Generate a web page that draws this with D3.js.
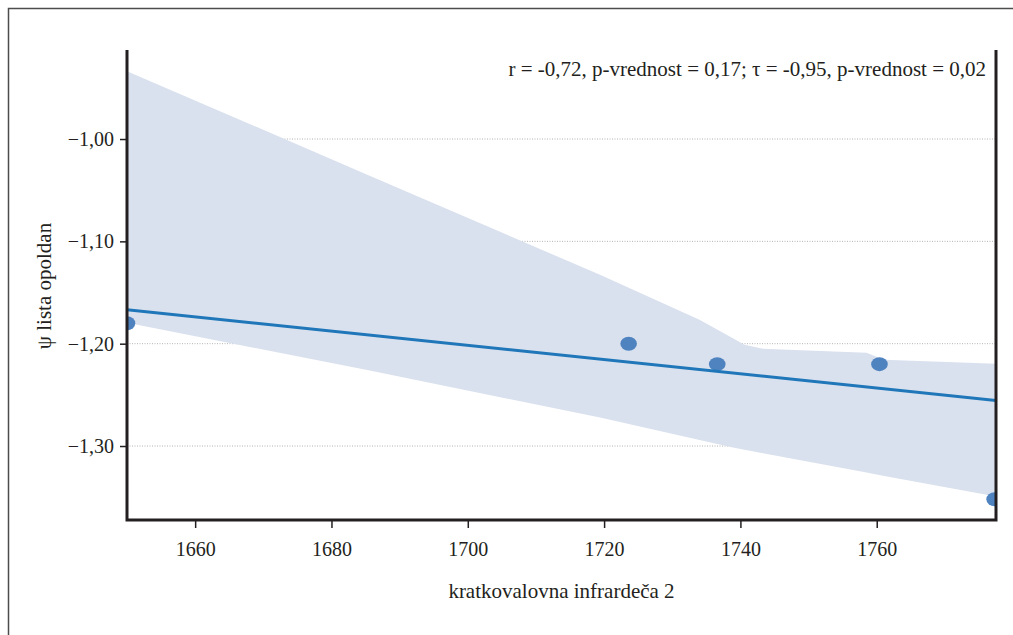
<!DOCTYPE html>
<html>
<head>
<meta charset="utf-8">
<script src="https://cdn.jsdelivr.net/npm/d3@7"></script>
<style>
body { margin: 0; background: #fff; }
text { font-family: "Liberation Serif", "DejaVu Serif", serif; fill: #231f20; }
</style>
</head>
<body>
<script>
// measured points
var xData = [1650, 1723.6, 1736.6, 1760.4, 1777.3];
var yData = [-1.18, -1.20, -1.22, -1.22, -1.352];

// regression line ends
var fitX = [1650, 1777.5];
var fitY = [-1.1668, -1.2556];

// confidence band
var bandX     = [1650, 1685.6, 1719.4, 1734.0, 1738.9, 1740.6, 1743.3, 1758.5, 1761.1, 1777.5];
var bandUpper = [-0.9337, -1.0358, -1.1327, -1.1766, -1.1947, -1.2010, -1.2049, -1.2088, -1.2156, -1.2195];
var bandLower = [-1.1795, -1.2263, -1.2722, -1.2941, -1.3015, -1.3036, -1.3070, -1.3259, -1.3292, -1.3493];

var xTicks = [1660, 1680, 1700, 1720, 1740, 1760];
var yTicks = [-1.00, -1.10, -1.20, -1.30];

var statText = "r = -0,72, p-vrednost = 0,17; \u03c4 = -0,95, p-vrednost = 0,02";
var xLabel = "kratkovalovna infrardeča 2";
var yLabel = "\u03c8 lista opoldan";

var W = 1013, H = 635;
var margin = {top: 50, right: 17, bottom: 115, left: 127};
var width = W - margin.left - margin.right;
var height = H - margin.top - margin.bottom;

var xScale = d3.scaleLinear().domain([1650, 1777.5]).range([0, width]);
var yScale = d3.scaleLinear().domain([-1.3723, -0.913]).range([height, 0]);

var loc = d3.formatLocale({decimal: ",", thousands: ".", grouping: [3], currency: ["", ""], minus: "\u2212"});
var yFmt = loc.format(".2f");

var svg = d3.select("body").append("svg")
.attr("width", W)
.attr("height", H);

// outer frame
svg.append("rect")
.attr("x", 8.5).attr("y", 8.5)
.attr("width", W).attr("height", H)
.attr("fill", "none")
.attr("stroke", "#4d4d4d")
.attr("stroke-width", 1.5);

var g = svg.append("g")
.attr("transform", "translate(" + margin.left + "," + margin.top + ")");

g.append("clipPath").attr("id", "clip")
.append("rect").attr("width", width).attr("height", height);

// grid
g.append("g").selectAll("line").data(yTicks).enter().append("line")
.attr("x1", 0).attr("x2", width)
.attr("y1", function(d) { return yScale(d); })
.attr("y2", function(d) { return yScale(d); })
.attr("stroke", "#b3b3b3")
.attr("stroke-width", 1)
.attr("stroke-dasharray", "1,1.5");

var plot = g.append("g").attr("clip-path", "url(#clip)");

var area = d3.area()
.x(function(d, i) { return xScale(bandX[i]); })
.y0(function(d, i) { return yScale(bandLower[i]); })
.y1(function(d, i) { return yScale(bandUpper[i]); });

plot.append("path")
.attr("d", area(bandX))
.attr("fill", "#dae1ee");

plot.selectAll("ellipse").data(xData).enter().append("ellipse")
.attr("cx", function(d) { return xScale(d); })
.attr("cy", function(d, i) { return yScale(yData[i]); })
.attr("rx", 8.3)
.attr("ry", 7)
.attr("fill", "#4f83c0");

var linePath = d3.line()
.x(function(d, i) { return xScale(d); })
.y(function(d, i) { return yScale(fitY[i]); });

plot.append("path")
.attr("d", linePath(fitX))
.attr("fill", "none")
.attr("stroke", "#1f77b9")
.attr("stroke-width", 3);

// axes
var xAxis = d3.axisBottom(xScale).tickValues(xTicks).tickFormat(d3.format("d")).tickSize(8).tickPadding(14);
var xAxisGroup = g.append("g")
.attr("transform", "translate(0," + height + ")")
.call(xAxis);
xAxisGroup.selectAll(".tick text").attr("font-size", 20);

var yAxis = d3.axisLeft(yScale).tickValues(yTicks).tickFormat(yFmt).tickSize(7).tickPadding(6);
var yAxisGroup = g.append("g").call(yAxis);
yAxisGroup.selectAll(".tick text").attr("font-size", 20);

g.selectAll(".domain").remove();
g.selectAll(".tick line").attr("stroke", "#231f20").attr("stroke-width", 1.5);
g.selectAll(".tick text").attr("fill", "#231f20");

// spines: left, right, bottom
g.append("path")
.attr("d", "M0,0V" + height + "H" + width + "V0")
.attr("fill", "none")
.attr("stroke", "#231f20")
.attr("stroke-width", 3);

g.append("text")
.attr("x", width - 10)
.attr("y", 26)
.attr("text-anchor", "end")
.attr("font-size", 21)
.text(statText);

svg.append("text")
.attr("x", margin.left + width / 2)
.attr("y", 598)
.attr("text-anchor", "middle")
.attr("font-size", 21)
.text(xLabel);

svg.append("text")
.attr("transform", "translate(51," + 286 + ") rotate(-90)")
.attr("text-anchor", "middle")
.attr("font-size", 21)
.text(yLabel);
</script>
</body>
</html>
